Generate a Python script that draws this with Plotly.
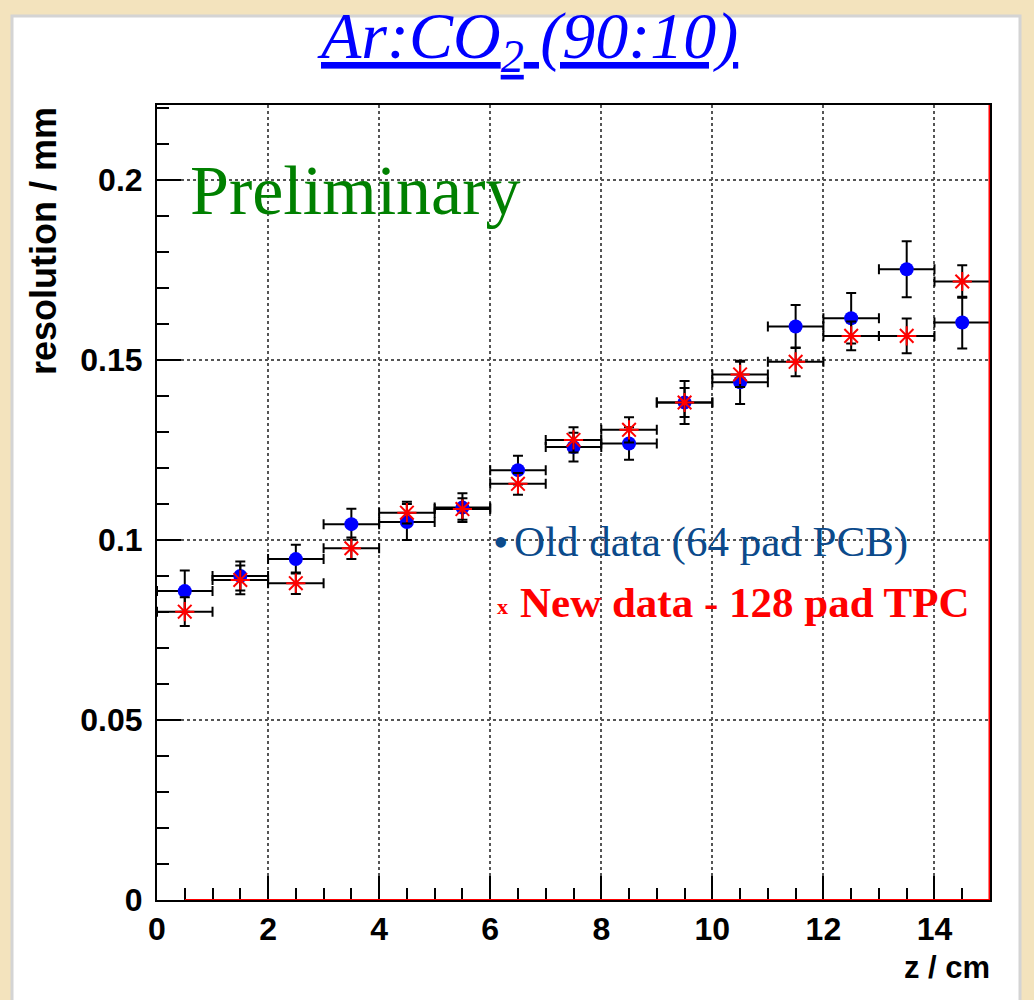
import plotly.graph_objects as go

# ---- data ----
z_centers = [0.5, 1.5, 2.5, 3.5, 4.5, 5.5, 6.5, 7.5, 8.5, 9.5, 10.5, 11.5, 12.5, 13.5, 14.5]
z_halfwidth = [0.5] * 15

old_res = [0.0858, 0.0900, 0.0947, 0.1044, 0.1050, 0.1090, 0.1194, 0.1258, 0.1268, 0.1382,
           0.1438, 0.1593, 0.1616, 0.1752, 0.1604]
old_err = [0.0057, 0.0040, 0.0040, 0.0043, 0.0050, 0.0040, 0.0040, 0.0040, 0.0045, 0.0060,
           0.0060, 0.0060, 0.0070, 0.0078, 0.0072]

new_res = [0.0801, 0.0889, 0.0880, 0.0977, 0.1076, 0.1086, 0.1156, 0.1278, 0.1306, 0.1382,
           0.1460, 0.1495, 0.1567, 0.1567, 0.1718]
new_err = [0.0040, 0.0040, 0.0030, 0.0030, 0.0030, 0.0030, 0.0030, 0.0035, 0.0035, 0.0040,
           0.0035, 0.0040, 0.0040, 0.0048, 0.0045]

x_ticks = [0, 2, 4, 6, 8, 10, 12, 14]
y_ticks = [0, 0.05, 0.1, 0.15, 0.2]
y_tick_text = ["0", "0.05", "0.1", "0.15", "0.2"]

# ---- geometry helpers (pixel -> paper) ----
W, H = 1034, 1000
ML, MR, MT, MB = 157, 44, 105, 100
PW, PH = W - ML - MR, H - MT - MB


def px(xp):
    return (xp - ML) / PW


def py(yp):
    return (H - MB - yp) / PH


fig = go.Figure()

err_style = dict(type="data", color="black", thickness=2, width=5)

fig.add_trace(go.Scatter(
    x=z_centers, y=old_res, mode="markers", name="Old data (64 pad PCB)",
    marker=dict(symbol="circle", size=14, color="#0000ff"),
    error_y=dict(array=old_err, **err_style),
    error_x=dict(array=z_halfwidth, **err_style),
    showlegend=False,
))
fig.add_trace(go.Scatter(
    x=z_centers, y=new_res, mode="markers", name="New data - 128 pad TPC",
    marker=dict(symbol="asterisk-open", size=16, color="#ff0000",
                line=dict(color="#ff2020", width=2)),
    error_y=dict(array=new_err, **err_style),
    error_x=dict(array=z_halfwidth, **err_style),
    showlegend=False,
))

tickfont = dict(family="Liberation Sans, Arial, sans-serif", size=32, color="black")

fig.update_layout(
    width=W, height=H, autosize=False,
    margin=dict(l=ML, r=MR, t=MT, b=MB, pad=0),
    paper_bgcolor="#f3e3bd",
    plot_bgcolor="white",
    showlegend=False,
    xaxis=dict(
        range=[0, 15], tickmode="array", tickvals=x_ticks,
        ticktext=[f"<b>{t}</b>" for t in x_ticks],
        ticks="inside", ticklen=24, tickwidth=1.5, tickcolor="black",
        minor=dict(dtick=0.5, ticks="inside", ticklen=12, tickwidth=1.5, tickcolor="black", showgrid=False),
        showgrid=True, gridcolor="#555555", griddash="dot", gridwidth=1.5,
        zeroline=False, showline=True, linecolor="black", linewidth=2, mirror=True,
        tickfont=tickfont, ticklabelstandoff=0,
    ),
    yaxis=dict(
        range=[0, PH / 3600.0], tickmode="array", tickvals=y_ticks,
        ticktext=[f"<b>{t}</b>" for t in y_tick_text],
        ticks="inside", ticklen=24, tickwidth=1.5, tickcolor="black",
        minor=dict(dtick=0.01, ticks="inside", ticklen=12, tickwidth=1.5, tickcolor="black", showgrid=False),
        showgrid=True, gridcolor="#555555", griddash="dot", gridwidth=1.5,
        zeroline=False, showline=True, linecolor="black", linewidth=2, mirror=True,
        tickfont=tickfont, ticklabelstandoff=6,
    ),
    shapes=[
        dict(type="rect", xref="paper", yref="paper", layer="below",
             x0=px(12), x1=px(1020), y0=py(1010), y1=py(16),
             fillcolor="white", line=dict(color="#d4d4d4", width=3)),
        dict(type="line", xref="x", yref="paper", x0=15, x1=15, y0=0, y1=1,
             line=dict(color="#ff0000", width=3)),
        dict(type="line", xref="x", yref="y", x0=0.5, x1=15, y0=0, y1=0,
             line=dict(color="#ff0000", width=2)),
    ],
    annotations=[
        dict(text="Ar:CO<sub>2</sub> (90:10)", xref="paper", yref="paper",
             x=px(527), y=py(40), xanchor="center", yanchor="middle", showarrow=False,
             font=dict(family="Liberation Serif, Times New Roman, serif", size=66,
                       color="#0000ff", style="italic", lineposition="under")),
        dict(text="<b>resolution / mm</b>", xref="paper", yref="paper",
             x=px(43), y=1.0, xanchor="center", yanchor="top", textangle=-90, showarrow=False,
             font=dict(family="Liberation Sans, Arial, sans-serif", size=36, color="black")),
        dict(text="<b>z / cm</b>", xref="paper", yref="paper",
             x=px(992), y=py(967), xanchor="right", yanchor="middle", showarrow=False,
             font=dict(family="Liberation Sans, Arial, sans-serif", size=31, color="black")),
        dict(text="Preliminary", xref="paper", yref="paper",
             x=px(188), y=py(190), xanchor="left", yanchor="middle", showarrow=False,
             font=dict(family="Liberation Serif, Times New Roman, serif", size=70, color="#008000")),
        dict(text="\u2022", xref="paper", yref="paper",
             x=px(500), y=py(542), xanchor="center", yanchor="middle", showarrow=False,
             font=dict(family="Liberation Serif, Times New Roman, serif", size=44, color="#0b4a8b")),
        dict(text="Old data (64 pad PCB)", xref="paper", yref="paper",
             x=px(512), y=py(542), xanchor="left", yanchor="middle", showarrow=False,
             font=dict(family="Liberation Serif, Times New Roman, serif", size=43, color="#0b4a8b")),
        dict(text="<b>x</b>", xref="paper", yref="paper",
             x=px(502), y=py(606), xanchor="center", yanchor="middle", showarrow=False,
             font=dict(family="Liberation Serif, Times New Roman, serif", size=22, color="#ff0000")),
        dict(text="<b>New data - 128 pad TPC</b>", xref="paper", yref="paper",
             x=px(518), y=py(602), xanchor="left", yanchor="middle", showarrow=False,
             font=dict(family="Liberation Serif, Times New Roman, serif", size=43, color="#ff0000")),
    ],
)

fig.write_html("out.html")
